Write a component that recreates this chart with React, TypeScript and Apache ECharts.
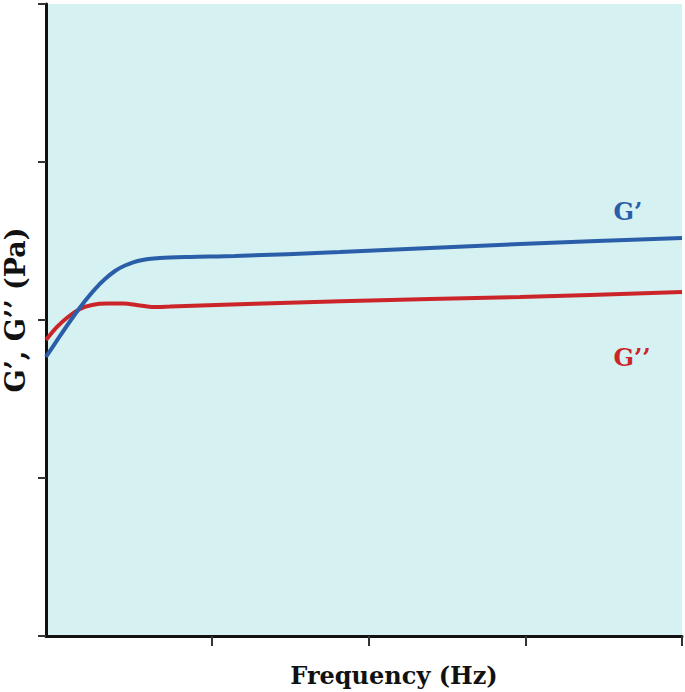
import React, { useEffect, useRef } from "react";
import * as echarts from "echarts";

// x in arbitrary frequency units (0..100), y in arbitrary modulus units (0..4)
const gPrimeX = [0, 2.2, 4.25, 6.13, 7.7, 9.28, 10.85, 12.42, 14.78, 17.92, 22.64, 29.72, 46.23, 74.53, 100];
const gPrimeY = [1.766, 1.899, 2.019, 2.12, 2.196, 2.259, 2.31, 2.345, 2.377, 2.392, 2.399, 2.405, 2.43, 2.481, 2.519];

const gDoubleX = [0, 1.73, 3.46, 5.35, 7.23, 9.59, 12.11, 14.78, 16.82, 19.5, 46.23, 74.53, 100];
const gDoubleY = [1.873, 1.956, 2.019, 2.07, 2.095, 2.104, 2.104, 2.092, 2.082, 2.085, 2.119, 2.146, 2.177];

const xTickValues = [26.1, 50.8, 75.4, 100];
const yTickValues = [0, 1, 2, 3, 4];

const xTitle = "Frequency (Hz)";
const yTitle = "G’, G’’ (Pa)";
const gPrimeLabel = "G’";
const gDoubleLabel = "G’’";

const BLUE = "#2a5ea8";
const RED = "#cc2529";
const SERIF = "'DejaVu Serif', 'Liberation Serif', serif";

export default function App() {
  const ref = useRef<HTMLDivElement>(null);
  useEffect(() => {
    if (!ref.current) return;
    const chart = echarts.init(ref.current, null, { renderer: "svg" });
    const pair = (xs: number[], ys: number[]) => xs.map((x, i) => [x, ys[i]]);
    chart.setOption({
      animation: false,
      grid: {
        left: 46,
        top: 4,
        right: 3,
        bottom: 56,
        outerBoundsMode: "none",
        containLabel: false,
        show: true,
        backgroundColor: "#d5f1f1",
        borderWidth: 0,
      },
      xAxis: {
        type: "value",
        min: 0,
        max: 100,
        splitLine: { show: false },
        axisLine: { show: true, lineStyle: { color: "#111", width: 3 } },
        axisTick: {
          show: true,
          customValues: xTickValues,
          length: 10,
          lineStyle: { color: "#333", width: 2 },
        },
        axisLabel: { show: false },
        name: xTitle,
        nameLocation: "middle",
        nameGap: 27,
        nameTextStyle: {
          fontFamily: SERIF,
          fontWeight: "bold",
          fontSize: 24,
          color: "#111",
          padding: [0, 0, 0, 60],
        },
      },
      yAxis: {
        type: "value",
        min: 0,
        max: 4,
        interval: 1,
        splitLine: { show: false },
        axisLine: { show: true, lineStyle: { color: "#111", width: 3 } },
        axisTick: {
          show: true,
          customValues: yTickValues,
          length: 8,
          lineStyle: { color: "#333", width: 2 },
        },
        axisLabel: { show: false },
        name: yTitle,
        nameLocation: "middle",
        nameRotate: 90,
        nameGap: 17,
        nameTextStyle: {
          fontFamily: SERIF,
          fontWeight: "bold",
          fontSize: 27,
          color: "#111",
          padding: [0, 0, 0, 20],
        },
      },
      series: [
        {
          name: "G'",
          type: "line",
          data: pair(gPrimeX, gPrimeY),
          showSymbol: false,
          smooth: 0.3,
          lineStyle: { color: BLUE, width: 4 },
          z: 3,
        },
        {
          name: "G''",
          type: "line",
          data: pair(gDoubleX, gDoubleY),
          showSymbol: false,
          smooth: 0.3,
          lineStyle: { color: RED, width: 4 },
          z: 2,
        },
      ],
      graphic: [
        {
          type: "text",
          x: 628,
          y: 211,
          style: {
            text: gPrimeLabel,
            fill: BLUE,
            font: `bold 24px ${SERIF}`,
            align: "center",
            verticalAlign: "middle",
          },
        },
        {
          type: "text",
          x: 632,
          y: 357,
          style: {
            text: gDoubleLabel,
            fill: RED,
            font: `bold 24px ${SERIF}`,
            align: "center",
            verticalAlign: "middle",
          },
        },
      ],
    });
    return () => chart.dispose();
  }, []);
  return <div ref={ref} style={{ width: 685, height: 692, position: "absolute", left: 0, top: 0 }} />;
}
